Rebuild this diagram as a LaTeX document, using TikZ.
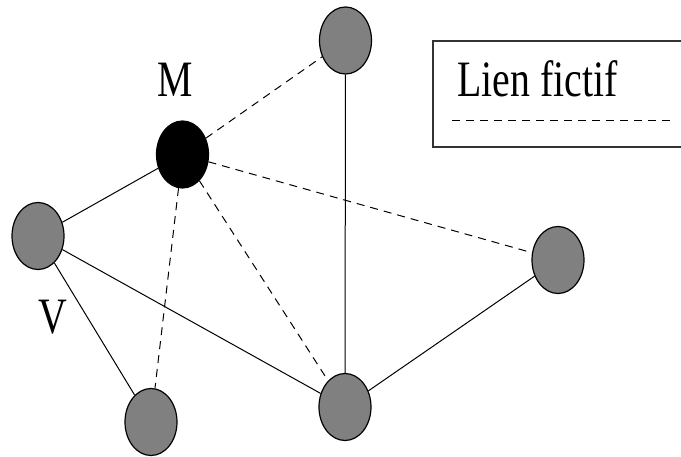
\documentclass[tikz,border=0pt]{standalone}
\usepackage{fontspec}
\setmainfont{Liberation Serif}
\usetikzlibrary{shapes.geometric}
\begin{document}
\begin{tikzpicture}[x=1pt,y=-1pt,
  vert/.style={ellipse,draw=black,line width=1.2pt,fill=gray!100!white,fill=black!50,minimum width=52pt,minimum height=67pt,inner sep=0pt},
  master/.style={vert,fill=black},
  solidlink/.style={line width=1pt},
  fictif/.style={line width=1pt,dash pattern=on 8pt off 6pt},
  lbl/.style={font=\fontsize{51}{55}\selectfont,inner sep=0pt}]
\useasboundingbox (0,0) rectangle (681,457);
\clip (0,0) rectangle (681,457);
\fill[white] (0,0) rectangle (681,457);
% nodes
\node[vert] (T) at (345.5,40.5) {};
\node[master] (M) at (182.5,154.5) {};
\node[vert] (V) at (38,236) {};
\node[vert] (BL) at (151,422) {};
\node[vert] (BM) at (345,407) {};
\node[vert] (R) at (558,260) {};
% labels
\node[lbl,anchor=base] (lM) at (175,97) {\scalebox{0.78}[1]{M}};
\node[lbl,anchor=base] (lV) at (53,334) {\scalebox{0.78}[1]{V}};
% links
\draw[solidlink] (V) -- (M);
\draw[solidlink] (V) -- (BM);
\draw[solidlink] (V) -- (BL);
\draw[solidlink] (T) -- (BM);
\draw[solidlink] (BM) -- (R);
\draw[fictif] (M) -- (T);
\draw[fictif] (M) -- (R);
\draw[fictif] (M) -- (BL);
\draw[fictif] (M) -- (BM);
% legend
\draw[line width=1.2pt,draw=black!80] (433,41) rectangle (700,147);
\node[lbl,anchor=base west] (leg) at (457,97) {\scalebox{0.78}[1]{Lien fictif}};
\coordinate (d1) at (452,121);
\coordinate (d2) at (672,121);
\draw[fictif] (d1) -- (d2);
\end{tikzpicture}
\end{document}
